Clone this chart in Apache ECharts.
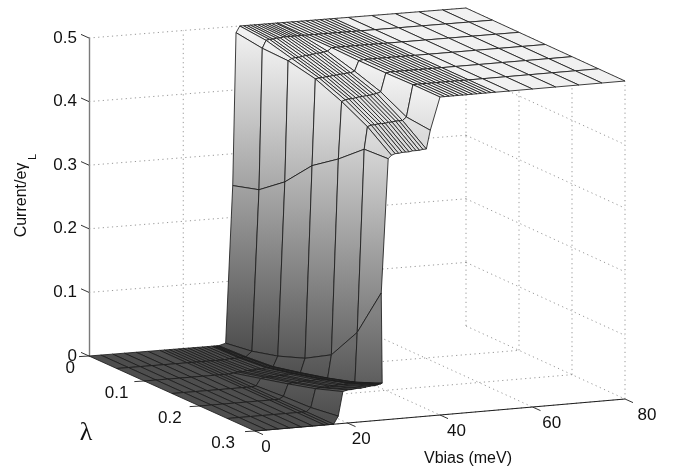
<!DOCTYPE html>
<html><head><meta charset="utf-8">
<style>html,body{margin:0;padding:0;background:#fff}#c{width:681px;height:470px}</style>
<script src="https://cdn.jsdelivr.net/npm/echarts@6/dist/echarts.min.js"></script>
</head><body><div id="c"></div>
<script>
const lambdaValues = [0, 0.05, 0.1, 0.15, 0.2, 0.25, 0.3];
const vbiasValues = [
  0,2.5,5,7.5,10,12.5,15,16,17,
  18,19,20,21,22,23,24,25,26,
  26.3,26.6,26.9,27.2,27.5,28,
  29.5,30.2,
  31,31.75,32.5,33.25,34,34.75,35.5,36.25,37,37.75,
  38.6,40,
  41,42,43,44,45,46,47,48,49,50,51,52,
  55,60,65,70,75,80];
// where the main step sits for each lambda, relative to the grid above (meV)
const stepShift = [1, 0.8, 0.5, 0.5, 0.3, 0, -0.7];
const stepFrom = 28, stepTo = 38.6;
const currentL00 = [
  0,0,0,0,0,0,0,0,0,
  0,0,0,0,0,0,0,0,0,
  0,0,0,0,0,.003,
  .25,.49,
  .5,.5,.5,.5,.5,.5,.5,.5,.5,.5,
  .5,.5,
  .5,.5,.5,.5,.5,.5,.5,.5,.5,.5,.5,.5,
  .5,.5,.5,.5,.5,.5];
const currentL05 = [
  0,0,0,0,0,0,0,0,0,
  0,0,0,0,0,0,.001,.001,.001,
  .001,.001,.002,.002,.002,.01,
  .263,.485,
  .497,.498,.498,.499,.499,.5,.5,.5,.5,.5,
  .5,.5,
  .5,.5,.5,.5,.5,.5,.5,.5,.5,.5,.5,.5,
  .5,.5,.5,.5,.5,.5];
const currentL10 = [
  0,0,0,0,0,0,0,0,0,
  0,.001,.002,.002,.003,.003,.004,.004,.005,
  .005,.005,.006,.006,.006,.022,
  .295,.485,
  .488,.489,.489,.49,.491,.491,.492,.493,.493,.494,
  .495,.5,
  .5,.5,.5,.5,.5,.5,.5,.5,.5,.5,.5,.5,
  .5,.5,.5,.5,.5,.5];
const currentL15 = [
  0,0,0,0,0,0,0,0,0,
  .001,.012,.013,.013,.013,.014,.014,.015,.015,
  .015,.015,.016,.016,.016,.038,
  .34,.476,
  .477,.477,.478,.478,.479,.479,.48,.48,.481,.481,
  .483,.499,
  .5,.5,.5,.5,.5,.5,.5,.5,.5,.5,.5,.5,
  .5,.5,.5,.5,.5,.5];
const currentL20 = [
  0,0,0,0,0,0,0,0,0,
  .004,.023,.024,.024,.025,.025,.025,.026,.026,
  .026,.026,.027,.027,.027,.063,
  .37,.46,
  .462,.463,.463,.464,.465,.465,.466,.466,.467,.468,
  .47,.499,
  .5,.5,.5,.5,.5,.5,.5,.5,.5,.5,.5,.5,
  .5,.5,.5,.5,.5,.5];
const currentL25 = [
  0,0,0,0,0,0,0,0,0,
  .006,.035,.036,.036,.037,.037,.038,.038,.039,
  .039,.039,.04,.04,.04,.118,
  .405,.44,
  .442,.442,.443,.443,.443,.444,.444,.445,.445,.445,
  .45,.5,
  .5,.5,.5,.5,.5,.5,.5,.5,.5,.5,.5,.5,
  .5,.5,.5,.5,.5,.5];
const currentL30 = [
  0,0,0,0,0,0,0,0,0,
  .012,.05,.052,.052,.053,.053,.054,.055,.055,
  .056,.056,.057,.057,.058,.2,
  .41,.415,
  .417,.417,.418,.418,.418,.419,.419,.419,.42,.42,
  .449,.5,
  .5,.5,.5,.5,.5,.5,.5,.5,.5,.5,.5,.5,
  .5,.5,.5,.5,.5,.5];
const currentRows = [currentL00,currentL05,currentL10,currentL15,currentL20,currentL25,currentL30];
const vbiasTicks = [0,20,40,60,80];
const lambdaTicks = [0,0.1,0.2,0.3];
const currentTicks = [0,0.1,0.2,0.3,0.4,0.5];
const vbiasMax = 80, lambdaMax = 0.3;

// floor corners of the 3-D box on the page
const CORNER = {a:[89,356], d:[466,326], c:[625,399], b:[255,431]};
const FONT = '"Liberation Sans", Arial, sans-serif';
const GRID = '#8c8c8c', INK = '#1e1e1e';

function shade(z){
  const c = Math.round(0x4e + (Math.max(0,z)/0.5)*(0xf1-0x4e));
  return 'rgb('+c+','+c+','+c+')';
}

function renderAll(params, api){
  const o = api.coord([0,0]), e = api.coord([vbiasMax,0]);
  function P(V,L,z){
    const p = api.coord([V,z]);
    const u = (p[0]-o[0])/(e[0]-o[0]), v = L/lambdaMax;
    const {a,b,c,d} = CORNER;
    const x = (1-u)*(1-v)*a[0]+u*(1-v)*d[0]+u*v*c[0]+(1-u)*v*b[0];
    const y = (1-u)*(1-v)*a[1]+u*(1-v)*d[1]+u*v*c[1]+(1-u)*v*b[1];
    return [x, y+(p[1]-o[1])];
  }
  const kids = [];
  const dotted = (p,q)=>kids.push({type:'line',shape:{x1:p[0],y1:p[1],x2:q[0],y2:q[1]},
    style:{stroke:GRID,lineWidth:0.9,lineDash:[1.2,3.4],fill:null}});
  const solid = (p,q,w)=>kids.push({type:'line',shape:{x1:p[0],y1:p[1],x2:q[0],y2:q[1]},
    style:{stroke:INK,lineWidth:w||0.9,fill:null}});
  const label = (s,x,y,align)=>kids.push({type:'text',x:x,y:y,
    style:{text:s,fill:'#111',font:'17px '+FONT,textAlign:align||'center',textVerticalAlign:'middle'}});

  // dotted box grid
  const zTop = currentTicks[currentTicks.length-1];
  currentTicks.forEach(z=>{
    if(z>0) dotted(P(0,0,z),P(vbiasMax,0,z));
    dotted(P(vbiasMax,0,z),P(vbiasMax,lambdaMax,z));
  });
  vbiasTicks.forEach(V=>{
    if(V>0){ dotted(P(V,0,0),P(V,0,zTop)); }
    if(V>0 && V<vbiasMax){ dotted(P(V,0,0),P(V,lambdaMax,0)); }
  });
  lambdaTicks.forEach(L=>{
    if(L>0){
      dotted(P(vbiasMax,L,0),P(vbiasMax,L,zTop));
      dotted(P(0,L,0),P(vbiasMax,L,0));
    }
  });

  // surface, painted from the far corner to the near one
  const vAt=(jj,ii)=>{
    const V=vbiasValues[jj];
    return (V>=stepFrom && V<=stepTo) ? V+stepShift[ii] : V;
  };
  for(let i=0;i<lambdaValues.length-1;i++){
    for(let j=vbiasValues.length-2;j>=0;j--){
      const vs=[[j,i],[j+1,i],[j+1,i+1],[j,i+1]].map(([jj,ii])=>{
        const z=currentRows[ii][jj];
        return {z,p:P(vAt(jj,ii),lambdaValues[ii],z)};
      });
      let lo=vs[0],hi=vs[0];
      vs.forEach(w=>{if(w.z<lo.z)lo=w;if(w.z>hi.z)hi=w;});
      let fill;
      const yl=(vs[0].p[1]+vs[3].p[1])/2, yh=(vs[1].p[1]+vs[2].p[1])/2;
      if(Math.abs(yl-yh)>3 && hi.z-lo.z>0.005){
        const zl=(vs[0].z+vs[3].z)/2, zh=(vs[1].z+vs[2].z)/2;
        fill=new echarts.graphic.LinearGradient(0,yl,0,yh,
          [{offset:0,color:shade(zl)},{offset:1,color:shade(zh)}],true);
      } else fill=shade((vs[0].z+vs[1].z+vs[2].z+vs[3].z)/4);
      kids.push({type:'polygon',shape:{points:vs.map(w=>w.p)},
        style:{fill:fill,stroke:'#1c1c1c',lineWidth:0.85,lineJoin:'round'}});
    }
  }

  // axes drawn on the box edges
  solid(P(0,lambdaMax,0),P(vbiasMax,lambdaMax,0),1);
  currentTicks.forEach(z=>{const p=P(0,0,z);solid(p,[p[0]-8,p[1]-3.6],0.9);});
  lambdaTicks.forEach(L=>{
    const p=P(0,L,0);solid(p,[p[0]-10,p[1]+0.6],0.9);
    label(L===0?'0':L.toFixed(1),p[0]-14-L*20,p[1]+12,'right');
  });
  vbiasTicks.forEach(V=>{
    const p=P(V,lambdaMax,0);solid(p,[p[0]+8,p[1]+3.6],0.9);
    label(String(V),p[0]+11+11*V/vbiasMax,p[1]+16);
  });
  return {type:'group',children:kids};
}

const chart = echarts.init(document.getElementById('c'),null,{renderer:'canvas'});
chart.setOption({
  animation:false,
  backgroundColor:'#fff',
  grid:{left:89,top:38,width:377,height:318,containLabel:false},
  xAxis:{type:'value',min:0,max:vbiasMax,show:false},
  yAxis:{type:'value',min:0,max:0.5,interval:0.1,
    axisLine:{show:true,lineStyle:{color:'#7a7a7a',width:1.4}},
    axisTick:{show:false},splitLine:{show:false},
    axisLabel:{color:'#111',fontFamily:'Liberation Sans',fontSize:17,margin:12,padding:[0,0,7,0],
      formatter:v=>v===0?'0':v.toFixed(1)}},
  series:[{type:'custom',coordinateSystem:'cartesian2d',clip:false,silent:true,
    data:[[0,0]],renderItem:renderAll}],
  graphic:[
    {type:'text',x:22,y:200,rotation:Math.PI/2,silent:true,
      style:{text:'Current/e\u03B3',fill:'#111',font:'16px "Liberation Sans"',textAlign:'center',textVerticalAlign:'middle'}},
    {type:'text',x:33,y:157,rotation:Math.PI/2,silent:true,
      style:{text:'L',fill:'#111',font:'11px "Liberation Sans"',textAlign:'center',textVerticalAlign:'middle'}},
    {type:'text',x:468,y:459,silent:true,
      style:{text:'Vbias (meV)',fill:'#111',font:'16px "Liberation Sans"',textAlign:'center',textVerticalAlign:'middle'}},
    {type:'text',x:86,y:433,silent:true,
      style:{text:'\u03BB',fill:'#111',font:'26px "Liberation Serif"',textAlign:'center',textVerticalAlign:'middle'}}
  ]
});
</script></body></html>
